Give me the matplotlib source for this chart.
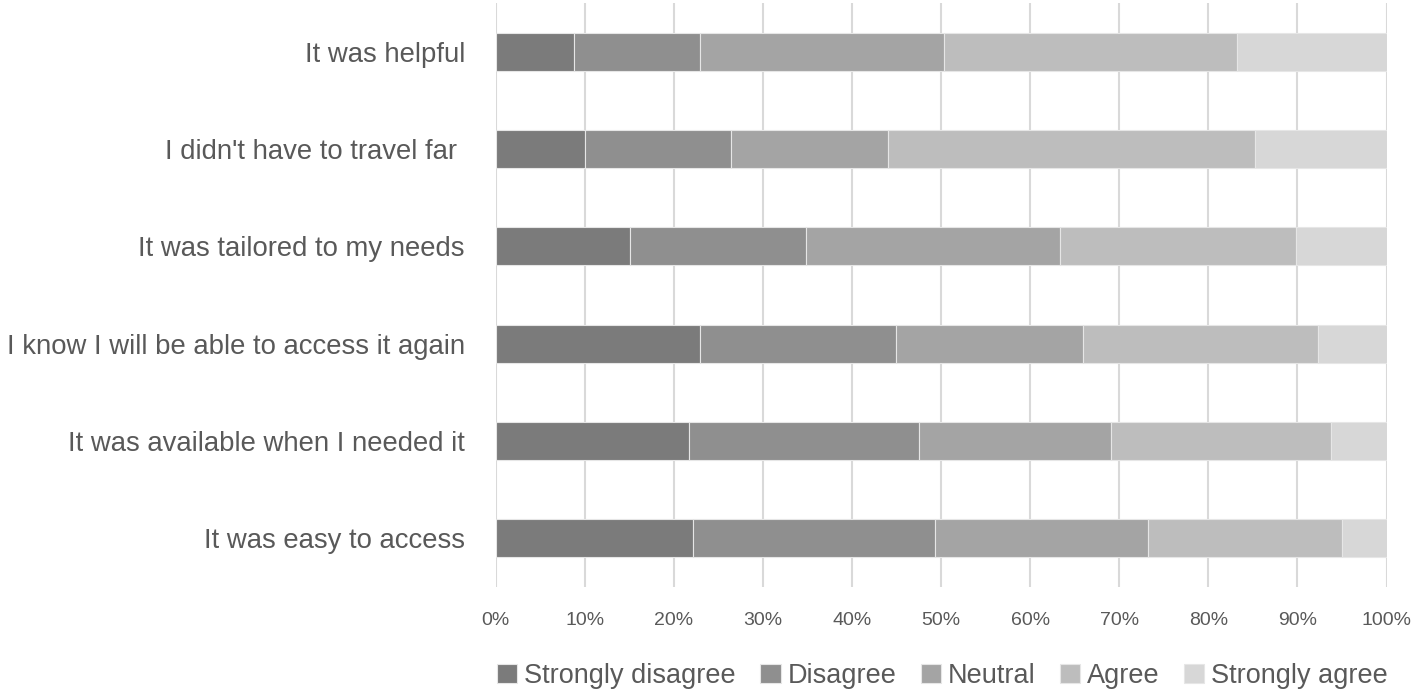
import numpy as np
import matplotlib.pyplot as plt

# Survey statements (top to bottom as shown)
statements = [
    "It was helpful",
    "I didn't have to travel far ",
    "It was tailored to my needs",
    "I know I will be able to access it again",
    "It was available when I needed it",
    "It was easy to access",
]

# Share of responses (%) per answer, same order as statements
strongly_disagree = [8.8, 10.0, 15.1, 23.0, 21.7, 22.2]
disagree = [14.1, 16.4, 19.7, 21.9, 25.8, 27.1]
neutral = [27.4, 17.7, 28.6, 21.0, 21.6, 23.9]
agree = [32.9, 41.1, 26.4, 26.4, 24.7, 21.8]
strongly_agree = [16.8, 14.8, 10.2, 7.7, 6.2, 5.0]

answers = ["Strongly disagree", "Disagree", "Neutral", "Agree", "Strongly agree"]
series = [strongly_disagree, disagree, neutral, agree, strongly_agree]
colors = ["#7b7b7b", "#8f8f8f", "#a4a4a4", "#bdbdbd", "#d7d7d7"]

plt.rcParams['font.family'] = ['Liberation Sans', 'DejaVu Sans']

fig = plt.figure(figsize=(14.15, 6.94), dpi=100)
ax = fig.add_axes([0.3502, 0.1542, 0.6297, 0.8415])

y = np.arange(len(statements))
left = np.zeros(len(statements))
for name, vals, col in zip(answers, series, colors):
    vals = np.array(vals)
    ax.barh(y, vals, left=left, height=0.39, color=col, label=name,
            edgecolor='#e6e6e6', linewidth=0.8, zorder=3)
    left += vals

ax.set_xlim(0, 100)
ax.set_ylim(len(statements) - 0.5, -0.5)
ax.set_yticks(y)
ax.set_yticklabels(statements, fontsize=19.8, color='#595959')
ax.set_xticks(np.arange(0, 101, 10))
ax.set_xticklabels([f"{v}%" for v in range(0, 101, 10)], fontsize=14, color='#595959')
ax.tick_params(axis='both', length=0)
ax.tick_params(axis='x', pad=18)
ax.tick_params(axis='y', pad=22)

ax.grid(axis='x', color='#d9d9d9', linewidth=1.5, zorder=0)
for s in ax.spines.values():
    s.set_visible(False)

leg = fig.legend(loc='center', bbox_to_anchor=(0.666, 0.026), ncol=5, frameon=False,
                 fontsize=19.5, handlelength=0.75, handleheight=0.75, handletextpad=0.25,
                 columnspacing=0.9)
for t in leg.get_texts():
    t.set_color('#595959')

fig.savefig("out.png", dpi=100)
